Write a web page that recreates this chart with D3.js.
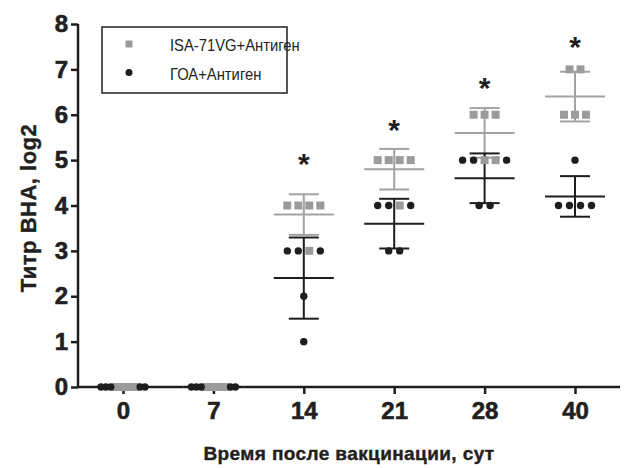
<!DOCTYPE html>
<html>
<head>
<meta charset="utf-8">
<script src="https://d3js.org/d3.v7.min.js"></script>
<style>
  body { margin: 0; padding: 0; background: #fff; }
  svg { font-family: "Liberation Sans", Arial, sans-serif; }
  .tick-label { font-weight: bold; font-size: 24px; fill: #231f20; stroke: #231f20; stroke-width: 0.6px; }
  .axis-title { font-weight: bold; fill: #231f20; stroke: #231f20; stroke-width: 0.4px; }
  .legend-text { font-size: 17px; fill: #231f20; }
</style>
</head>
<body>
<div id="chart"></div>
<script>
// data
var days = ["0", "7", "14", "21", "28", "40"];
var isaValues = [[0,0,0,0,0],[0,0,0,0,0],[4,4,4,4,3],[5,5,5,5,4],[6,6,6,5,5],[7,7,6,6,6]];
var goaValues = [[0,0,0,0,0],[0,0,0,0,0],[3,3,3,2,1],[4,4,4,3,3],[5,5,5,4,4],[5,4,4,4,4]];
var starLevels = [null, null, 5.07, 5.82, 6.74, 7.64];
var yTicks = [0, 1, 2, 3, 4, 5, 6, 7, 8];
var seriesNames = ["ISA-71VG+Антиген", "ГОА+Антиген"];

var grey = "#a3a3a3", greyMark = "#9b9b9b", black = "#1e1e1e";

var width = 625, height = 468;
var svg = d3.select("#chart").append("svg")
    .attr("width", width).attr("height", height);

var x = d3.scalePoint().domain(days).range([123, 575]);
var y = d3.scaleLinear().domain([0, 8]).range([387, 24]);

// axes
var yAxis = svg.append("g")
    .attr("transform", "translate(78,0)")
    .call(d3.axisLeft(y).tickValues(yTicks).tickSize(7).tickPadding(3).tickFormat(d3.format("d")));
var xAxis = svg.append("g")
    .attr("transform", "translate(0,387)")
    .call(d3.axisBottom(x).tickSize(7).tickPadding(8));
xAxis.select(".domain").attr("d", "M78,0H620");
yAxis.select(".domain").attr("d", "M0,387V24");
svg.selectAll(".domain, .tick line").attr("stroke", black).attr("stroke-width", 2.5);
svg.selectAll(".tick text").attr("class", "tick-label");

svg.append("text").attr("class", "axis-title")
    .attr("transform", "translate(36,208) rotate(-90)")
    .attr("text-anchor", "middle")
    .style("font-size", "22px")
    .style("letter-spacing", "0.5px")
    .text("Титр ВНА, log2");
svg.append("text").attr("class", "axis-title")
    .attr("x", 349).attr("y", 460)
    .attr("text-anchor", "middle")
    .style("font-size", "19px")
    .style("letter-spacing", "0.4px")
    .text("Время после вакцинации, сут");

// point layout: points with the same value share a row, spread around the day
var points = [];
days.forEach(function(day, i) {
  var levels = d3.union(isaValues[i], goaValues[i]);
  levels.forEach(function(v) {
    var nb = goaValues[i].filter(function(d) { return d === v; }).length;
    var ng = isaValues[i].filter(function(d) { return d === v; }).length;
    var nFirst = Math.ceil(nb / 2);
    var row = [];
    for (var k = 0; k < nFirst; k++) row.push("goa");
    for (var k = 0; k < ng; k++) row.push("isa");
    for (var k = nFirst; k < nb; k++) row.push("goa");
    var n = row.length;
    var step = n > 1 ? Math.min(11, 44 / (n - 1)) : 0;
    row.forEach(function(s, j) {
      points.push({day: day, value: v, series: s, dx: (j - (n - 1) / 2) * step});
    });
  });
});

// mean ± SD
function stats(vals) {
  return {mean: d3.mean(vals), sd: d3.deviation(vals) || 0};
}
function drawBars(values, color) {
  var g = svg.append("g").attr("stroke", color).attr("stroke-width", 2).attr("fill", "none");
  days.forEach(function(day, i) {
    var s = stats(values[i]);
    var cx = x(day);
    g.append("line").attr("x1", cx - 30).attr("x2", cx + 30)
      .attr("y1", y(s.mean)).attr("y2", y(s.mean));
    g.append("line").attr("x1", cx).attr("x2", cx)
      .attr("y1", y(s.mean - s.sd)).attr("y2", y(s.mean + s.sd));
    [s.mean - s.sd, s.mean + s.sd].forEach(function(v) {
      g.append("line").attr("x1", cx - 15).attr("x2", cx + 15)
        .attr("y1", y(v)).attr("y2", y(v));
    });
  });
}
drawBars(isaValues, grey);
drawBars(goaValues, black);

svg.selectAll(".isa").data(points.filter(function(d) { return d.series === "isa"; }))
  .enter().append("rect").attr("class", "isa")
  .attr("x", function(d) { return x(d.day) + d.dx - 4; })
  .attr("y", function(d) { return y(d.value) - 4; })
  .attr("width", 8).attr("height", 8)
  .attr("fill", greyMark);

svg.selectAll(".goa").data(points.filter(function(d) { return d.series === "goa"; }))
  .enter().append("circle").attr("class", "goa")
  .attr("cx", function(d) { return x(d.day) + d.dx; })
  .attr("cy", function(d) { return y(d.value); })
  .attr("r", 3.7)
  .attr("fill", black);

// significance marks
svg.selectAll(".star").data(days.filter(function(d, i) { return starLevels[i] !== null; }))
  .enter().append("text").attr("class", "star")
  .attr("x", function(d) { return x(d); })
  .attr("y", function(d) { return y(starLevels[days.indexOf(d)]) + 17; })
  .attr("text-anchor", "middle")
  .style("font-weight", "bold").style("font-size", "30px").attr("fill", black)
  .text("*");

// legend
var lg = svg.append("g").attr("transform", "translate(102,27)");
lg.append("rect").attr("width", 185).attr("height", 66)
  .attr("fill", "#fff").attr("stroke", black).attr("stroke-width", 1.5);
lg.append("rect").attr("x", 23.5).attr("y", 13.5).attr("width", 7).attr("height", 7).attr("fill", greyMark);
lg.append("circle").attr("cx", 27).attr("cy", 45.5).attr("r", 3.5).attr("fill", black);
lg.selectAll(".legend-text").data(seriesNames).enter().append("text")
  .attr("class", "legend-text")
  .attr("transform", function(d, i) { return "translate(68," + (24 + i * 29) + ") scale(0.87,1)"; })
  .text(function(d) { return d; });
</script>
</body>
</html>
